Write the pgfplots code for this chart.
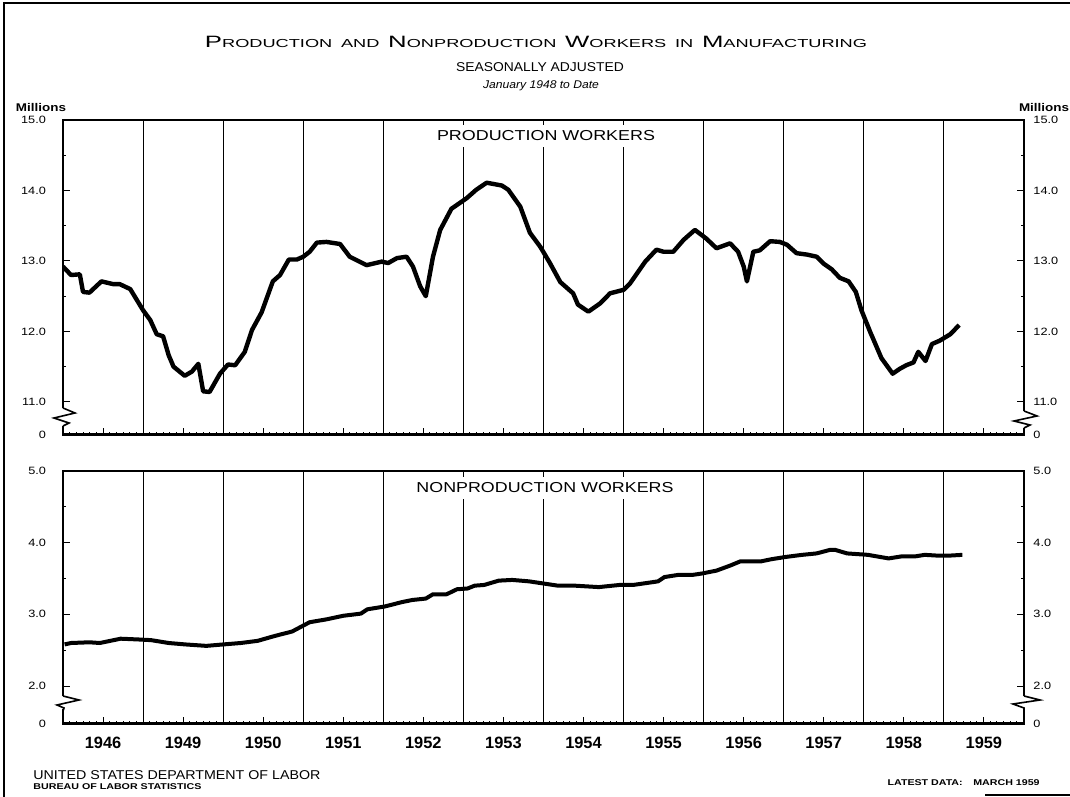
\documentclass[border=0pt]{standalone}
\usepackage{fontspec}
\setmainfont{Liberation Sans}
\newfontfamily\lett[FakeStretch=1.2]{Liberation Sans}
\usepackage{graphicx}
\usepackage{pgfplots}
\usepackage{pgfplotstable}
\pgfplotsset{compat=1.18}

\pgfplotstableread{
x y
1948.00 12.92
1948.10 12.80
1948.21 12.81
1948.25 12.56
1948.33 12.55
1948.48 12.71
1948.63 12.67
1948.71 12.67
1948.84 12.60
1949.00 12.30
1949.09 12.16
1949.17 11.96
1949.25 11.93
1949.32 11.66
1949.38 11.50
1949.52 11.37
1949.61 11.43
1949.69 11.54
1949.75 11.15
1949.83 11.14
1949.96 11.40
1950.06 11.53
1950.15 11.52
1950.27 11.71
1950.36 12.02
1950.48 12.27
1950.62 12.71
1950.71 12.80
1950.82 13.02
1950.92 13.02
1951.00 13.06
1951.08 13.13
1951.17 13.26
1951.29 13.27
1951.46 13.24
1951.58 13.06
1951.79 12.94
1951.98 12.99
1952.06 12.97
1952.17 13.04
1952.29 13.06
1952.37 12.92
1952.46 12.64
1952.53 12.50
1952.62 13.06
1952.71 13.44
1952.85 13.74
1953.04 13.89
1953.16 14.01
1953.29 14.11
1953.48 14.07
1953.56 14.01
1953.71 13.77
1953.83 13.40
1953.96 13.20
1954.08 12.97
1954.21 12.70
1954.37 12.54
1954.43 12.38
1954.56 12.28
1954.71 12.40
1954.83 12.54
1955.00 12.59
1955.08 12.68
1955.27 12.99
1955.41 13.16
1955.50 13.13
1955.62 13.13
1955.75 13.30
1955.89 13.44
1956.03 13.32
1956.16 13.18
1956.33 13.25
1956.43 13.13
1956.50 12.92
1956.54 12.71
1956.62 13.13
1956.70 13.15
1956.83 13.28
1956.95 13.27
1957.04 13.23
1957.16 13.11
1957.29 13.09
1957.41 13.06
1957.50 12.96
1957.60 12.88
1957.70 12.76
1957.81 12.71
1957.90 12.56
1957.97 12.30
1958.08 11.99
1958.22 11.62
1958.36 11.40
1958.45 11.47
1958.53 11.52
1958.62 11.56
1958.68 11.71
1958.77 11.58
1958.85 11.82
1958.95 11.87
1959.08 11.96
1959.19 12.09
}\prodtable

\pgfplotstableread{
x y
1948.02 2.58
1948.10 2.60
1948.33 2.61
1948.46 2.60
1948.72 2.66
1948.93 2.65
1949.10 2.64
1949.32 2.60
1949.53 2.58
1949.79 2.56
1950.00 2.58
1950.22 2.60
1950.43 2.63
1950.65 2.70
1950.86 2.76
1951.08 2.89
1951.29 2.93
1951.50 2.98
1951.72 3.01
1951.80 3.07
1952.02 3.11
1952.23 3.17
1952.36 3.20
1952.53 3.22
1952.62 3.28
1952.79 3.28
1952.92 3.35
1953.05 3.36
1953.14 3.40
1953.26 3.41
1953.44 3.47
1953.61 3.48
1953.82 3.46
1954.00 3.43
1954.18 3.40
1954.39 3.40
1954.69 3.38
1954.95 3.41
1955.12 3.41
1955.43 3.46
1955.51 3.52
1955.68 3.55
1955.86 3.55
1955.98 3.57
1956.16 3.61
1956.33 3.68
1956.46 3.74
1956.72 3.74
1956.85 3.77
1957.02 3.80
1957.23 3.83
1957.41 3.85
1957.58 3.90
1957.64 3.90
1957.79 3.85
1958.05 3.83
1958.31 3.78
1958.48 3.81
1958.65 3.81
1958.76 3.83
1958.91 3.82
1959.08 3.82
1959.23 3.83
}\nonprodtable

\newcommand\SC[2]{{\fontsize{8.2}{9}\selectfont #1}{\fontsize{5.8}{7}\selectfont #2}}
\newcommand\fitw[2]{\resizebox{#1}{\height}{#2}}

\pgfplotsset{
  panel/.style={
    scale only axis, width=480.5pt, anchor=south west,
    xmin=1948, xmax=1960,
    axis line style={line width=0.9pt},
    xtick={1948.5,1949.5,...,1959.5},
    minor xtick={1948,1948.083333,...,1960},
    xtick pos=left,
    major tick length=3.5pt, minor tick length=1.7pt,
    every tick/.style={black, line width=0.5pt},
    extra x ticks={1949,1950,...,1959},
    extra x tick labels={},
    extra x tick style={grid=major, major grid style={black, line width=0.45pt}, major tick length=2.5pt},
    yticklabel style={font=\lett\fontsize{5.3}{6}\selectfont, xshift=-5pt},
    xticklabel style={font=\rmfamily\bfseries\fontsize{8.2}{9}\selectfont, yshift=-3pt},
  },
  rlabels/.style={
    scale only axis, width=480.5pt, anchor=south west,
    xmin=1948, xmax=1960, xtick=\empty, minor xtick={},
    axis line style={draw=none},
    yticklabel pos=right,
    major tick length=0pt, minor tick length=0pt,
    ytick style={draw=none},
    yticklabel style={font=\lett\fontsize{5.3}{6}\selectfont, xshift=1.2pt},
  },
}

\begin{document}
\begin{tikzpicture}[x=0.5pt,y=0.5pt]
\path[use as bounding box] (0,0) rectangle (1070,797);

% ---------- top panel: production workers
\begin{axis}[panel, at={(31.5pt,181pt)}, height=157.5pt,
  ymin=10.53, ymax=15,
  ytick={10.53,11,12,13,14,15},
  yticklabels={0,11.0,12.0,13.0,14.0,15.0},
  minor ytick={11.5,12.5,13.5,14.5},
  xticklabels={}]
\addplot[black, line width=2.2pt, line join=round] table[x=x,y=y] {\prodtable};
\draw[line width=1.6pt] (rel axis cs:0,0) -- (rel axis cs:1,0);
\end{axis}
\begin{axis}[rlabels, at={(31.5pt,181pt)}, height=157.5pt,
  ymin=10.53, ymax=15,
  ytick={10.53,11,12,13,14,15},
  yticklabels={0,11.0,12.0,13.0,14.0,15.0}]
\end{axis}

% ---------- bottom panel: nonproduction workers
\begin{axis}[panel, at={(31.5pt,36.5pt)}, height=126.5pt,
  ymin=1.47, ymax=5,
  ytick={1.47,2,3,4,5},
  yticklabels={0,2.0,3.0,4.0,5.0},
  minor ytick={2.5,3.5,4.5},
  xticklabels={1946,1949,1950,1951,1952,1953,1954,1955,1956,1957,1958,1959}]
\addplot[black, line width=2.0pt, line join=round] table[x=x,y=y] {\nonprodtable};
\draw[line width=1.6pt] (rel axis cs:0,0) -- (rel axis cs:1,0);
\end{axis}
\begin{axis}[rlabels, at={(31.5pt,36.5pt)}, height=126.5pt,
  ymin=1.47, ymax=5,
  ytick={1.47,2,3,4,5},
  yticklabels={0,2.0,3.0,4.0,5.0}]
\end{axis}

% ---------- axis breaks
\draw[white, line width=2pt] (63,371) -- (63,389);
\draw[line width=0.8pt, line join=miter] (63,389) -- (75,384) -- (54,379) -- (69,374) -- (63,371);
\draw[white, line width=2pt] (1024,369) -- (1024,386);
\draw[line width=0.8pt] (1024,386) -- (1037,381) -- (1014,376) -- (1030,372) -- (1024,369);
\draw[white, line width=2pt] (63,88) -- (63,101);
\draw[line width=0.8pt] (63,101) -- (79,97) -- (57,92) -- (64,89) -- (63,86);
\draw[white, line width=2pt] (1024,88) -- (1024,101);
\draw[line width=0.8pt] (1024,101) -- (1040,97) -- (1013,93) -- (1024,89) -- (1024,86);

% ---------- outer frame
\draw[line width=1.4pt] (4,0) -- (4,794) -- (1070,794);
\draw[line width=0.8pt] (985,2) -- (1070,2);

% ---------- texts
\node at (536,755) {\fitw{331pt}{\lett\SC{P}{RODUCTION} \SC{}{AND} \SC{N}{ONPRODUCTION} \SC{W}{ORKERS} \SC{}{IN} \SC{M}{ANUFACTURING}}};
\node at (540,730) {\fitw{84pt}{\lett\fontsize{6.4}{7}\selectfont SEASONALLY ADJUSTED}};
\node at (541,711) {\fitw{58pt}{\lett\itshape\fontsize{5.6}{6}\selectfont January 1948 to Date}};
\node at (41,689) {\lett\bfseries\fontsize{5.6}{6}\selectfont Millions};
\node at (1044,689) {\lett\bfseries\fontsize{5.6}{6}\selectfont Millions};
\node[fill=white, inner sep=3pt] at (546,661) {\fitw{109pt}{\lett\fontsize{7.2}{8}\selectfont PRODUCTION WORKERS}};
\node[fill=white, inner sep=3pt] at (545,309) {\fitw{128.5pt}{\lett\fontsize{7.2}{8}\selectfont NONPRODUCTION WORKERS}};
\node[anchor=west, inner sep=0pt] at (33,22) {\fitw{143.5pt}{\lett\fontsize{6.4}{7}\selectfont UNITED STATES DEPARTMENT OF LABOR}};
\node[anchor=west, inner sep=0pt] at (33,10) {\fitw{84pt}{\lett\bfseries\fontsize{4.2}{5}\selectfont BUREAU OF LABOR STATISTICS}};
\node[anchor=east, inner sep=0pt] at (1040,14) {\fitw{76pt}{\lett\bfseries\fontsize{4.2}{5}\selectfont LATEST DATA:\hspace{1.2em}MARCH 1959}};
\end{tikzpicture}
\end{document}
